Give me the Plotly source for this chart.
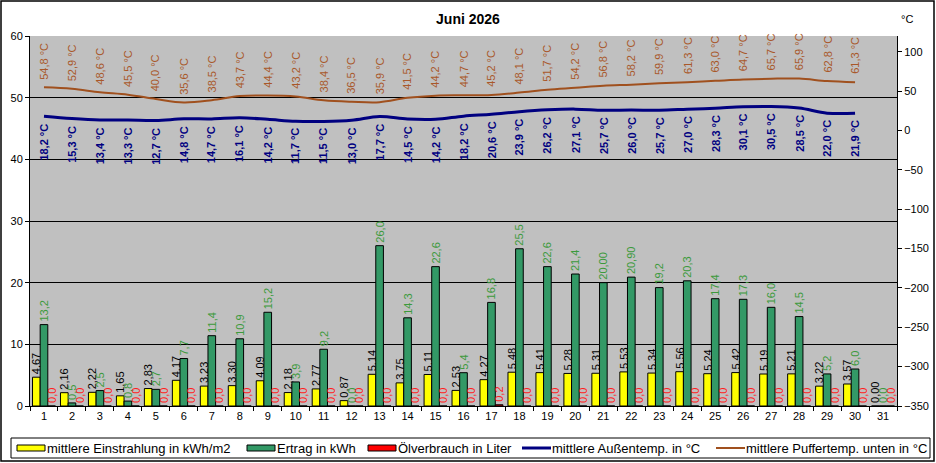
import plotly.graph_objects as go

# daily values, June 2026
tage = [str(d) for d in range(1, 32)]

einstrahlung = [4.67, 2.16, 2.22, 1.65, 2.83, 4.17, 3.23, 3.30, 4.09, 2.18,
                2.77, 0.87, 5.14, 3.75, 5.11, 2.53, 4.27, 5.48, 5.41, 5.28,
                5.31, 5.53, 5.34, 5.56, 5.24, 5.42, 5.19, 5.21, 3.22, 3.57, 0.00]

ertrag = [13.2, 0.5, 2.5, 0.8, 2.7, 7.7, 11.4, 10.9, 15.2, 3.9,
          9.2, 0.0, 26.0, 14.3, 22.6, 5.4, 16.8, 25.5, 22.6, 21.4,
          20.00, 20.90, 19.2, 20.3, 17.4, 17.3, 16.0, 14.5, 5.2, 6.0, 0.0]
ertrag_2dez = {"21", "22"}  # days shown with two decimals

oel = [0.0] * 16 + [0.2] + [0.0] * 14

aussentemp = [18.2, 15.3, 13.4, 13.3, 12.7, 14.8, 14.7, 16.1, 14.2, 11.7,
              11.5, 13.0, 17.7, 14.5, 14.2, 18.2, 20.6, 23.9, 26.2, 27.1,
              25.7, 26.0, 25.7, 27.0, 28.3, 30.1, 30.5, 28.5, 22.0, 21.9]

puffertemp = [54.8, 52.9, 48.6, 45.5, 40.0, 35.6, 38.5, 43.7, 44.4, 43.2,
              38.4, 36.5, 35.9, 41.5, 44.2, 44.7, 45.2, 48.1, 51.7, 54.2,
              56.8, 58.2, 59.9, 61.3, 63.0, 64.7, 65.7, 65.9, 62.8, 61.3]


def de(v, n):
    return f"{v:.{n}f}".replace(".", ",")


FONT = "Liberation Sans"
W, H = 936, 463
ML, MR, MT, MB = 30, 39, 36, 57
pw = W - ML - MR
ph = H - MT - MB


def px(x):  # pixel column -> paper x
    return (x - ML) / pw


def py(y):  # pixel row -> paper y
    return (H - MB - y) / ph


GELB, GRUEN, ROT = "#FFFF00", "#339966", "#FF0000"
BLAU, BRAUN = "#000080", "#A0501E"

fig = go.Figure()

bar_common = dict(textposition="outside", textangle=-90, cliponaxis=False,
                  constraintext="none", marker_line=dict(color="black", width=1),
                  showlegend=False)

fig.add_trace(go.Bar(x=tage, y=einstrahlung, name="mittlere Einstrahlung in kWh/m2",
                     marker_color=GELB, text=[de(v, 2) for v in einstrahlung],
                     textfont=dict(color="black", size=11, family=FONT), **bar_common))
fig.add_trace(go.Bar(x=tage, y=ertrag, name="Ertrag in kWh",
                     marker_color=GRUEN,
                     text=[de(v, 2 if t in ertrag_2dez else 1) for t, v in zip(tage, ertrag)],
                     textfont=dict(color="#3C9A3C", size=11, family=FONT), **bar_common))
fig.add_trace(go.Bar(x=tage, y=oel, name="Ölverbrauch in Liter",
                     marker_color=ROT, text=[de(v, 1) for v in oel],
                     textfont=dict(color="#FF2020", size=11, family=FONT), **bar_common))

fig.add_trace(go.Scatter(x=tage[:len(aussentemp)], y=aussentemp, yaxis="y2",
                         name="mittlere Außentemp. in °C", mode="lines", showlegend=False,
                         line=dict(color=BLAU, width=3, shape="spline")))
fig.add_trace(go.Scatter(x=tage[:len(puffertemp)], y=puffertemp, yaxis="y2",
                         name="mittlere Puffertemp. unten in °C", mode="lines", showlegend=False,
                         line=dict(color=BRAUN, width=2, shape="spline")))

# rotated temperature labels (category axis -> use the category index)
for i, v in enumerate(puffertemp):
    fig.add_annotation(x=i, y=v, yref="y2", text=de(v, 1) + " °C", textangle=-90,
                       showarrow=False, yanchor="bottom", yshift=6,
                       font=dict(color="#A9582A", size=11, family=FONT))
for i, v in enumerate(aussentemp):
    fig.add_annotation(x=i, y=v, yref="y2", text="<b>" + de(v, 1) + " °C</b>", textangle=-90,
                       showarrow=False, yanchor="top", yshift=-5,
                       font=dict(color=BLAU, size=11, family=FONT))

fig.add_annotation(xref="paper", yref="paper", x=px(906), y=py(18),
                   xshift=9, yshift=7,
                   text="°C", showarrow=False, font=dict(size=11, color="black", family=FONT))

# outer chart frame
fig.add_shape(type="rect", xref="paper", yref="paper",
              x0=px(1), x1=px(934), y0=py(461), y1=py(1),
              line=dict(color="black", width=1.5), layer="below")

# legend drawn by hand so it fits on one line like the original
fig.add_shape(type="rect", xref="paper", yref="paper",
              x0=px(11), x1=px(930), y0=py(458), y1=py(438),
              line=dict(color="black", width=1), fillcolor="white", layer="below")
legende = [(tr.name, tr.type, tr.marker.color if tr.type == "bar" else tr.line.color)
           for tr in fig.data]
start_x = [17, 247, 368, 522, 716]
for (name, art, farbe), x0 in zip(legende, start_x):
    if art == "bar":
        fig.add_shape(type="rect", xref="paper", yref="paper",
                      x0=px(x0), x1=px(x0 + 28), y0=py(451), y1=py(445),
                      fillcolor=farbe, line=dict(color="black", width=1))
    else:
        fig.add_shape(type="line", xref="paper", yref="paper",
                      x0=px(x0), x1=px(x0 + 29), y0=py(448), y1=py(448),
                      line=dict(color=farbe, width=3 if farbe == BLAU else 2))
    fig.add_annotation(xref="paper", yref="paper", x=px(x0 + 30), y=py(448),
                       xanchor="left", yanchor="middle", text=name, showarrow=False,
                       xshift=-2, font=dict(size=13, color="black", family=FONT))

fig.update_layout(
    width=W, height=H,
    margin=dict(l=ML, r=MR, t=MT, b=MB),
    paper_bgcolor="white", plot_bgcolor="#C0C0C0",
    font=dict(family=FONT, size=11, color="black"),
    title=dict(text="<b>Juni 2026</b>", x=0.5, xanchor="center", y=1 - 19 / H,
               yanchor="middle", font=dict(size=14, family=FONT, color="black")),
    barmode="group", bargap=0.18, bargroupgap=0,
    showlegend=False,
    xaxis=dict(type="category", tickson="boundaries", ticks="outside", ticklen=4,
               tickcolor="black", showline=True, linecolor="black", showgrid=False,
               tickfont=dict(size=11), automargin=False),
    yaxis=dict(range=[0, 60], dtick=10, showgrid=True, gridcolor="black", gridwidth=1,
               showline=True, linecolor="black", ticks="outside", ticklen=4,
               tickcolor="black", zeroline=False, tickfont=dict(size=11), automargin=False),
    yaxis2=dict(range=[-350, 120], dtick=50, overlaying="y", side="right",
                showgrid=False, showline=True, linecolor="black", ticks="outside",
                ticklen=4, tickcolor="black", zeroline=False, tickfont=dict(size=11),
                automargin=False),
)

fig.write_html("out.html", config={"displayModeBar": False},
               post_script="document.body.style.margin='0';")
